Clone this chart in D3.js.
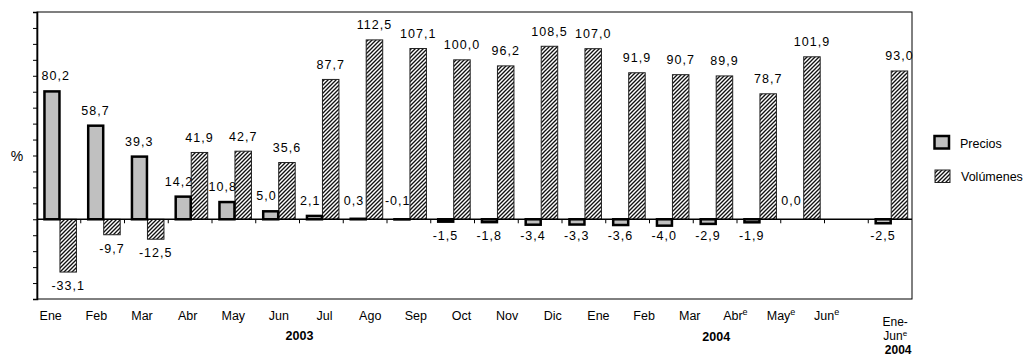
<!DOCTYPE html>
<html>
<head>
<meta charset="utf-8">
<script src="https://cdn.jsdelivr.net/npm/d3@7"></script>
<style>
  html, body { margin: 0; padding: 0; background: #fff; }
  svg { display: block; font-family: "Liberation Sans", Arial, sans-serif; }
</style>
</head>
<body>
<svg id="chart" width="1028" height="356"></svg>
<script>
// ---- Data ----
const slotKeys = ["2003-01","2003-02","2003-03","2003-04","2003-05","2003-06","2003-07","2003-08","2003-09","2003-10","2003-11","2003-12","2004-01","2004-02","2004-03","2004-04","2004-05","2004-06","gap","2004-H1"];
const precios   = [80.2, 58.7, 39.3, 14.2, 10.8, 5.0, 2.1, 0.3, -0.1, -1.5, -1.8, -3.4, -3.3, -3.6, -4.0, -2.9, -1.9, 0.0, null, -2.5];
const volumenes = [-33.1, -9.7, -12.5, 41.9, 42.7, 35.6, 87.7, 112.5, 107.1, 100.0, 96.2, 108.5, 107.0, 91.9, 90.7, 89.9, 78.7, 101.9, null, 93.0];
const monthLabels = ["Ene","Feb","Mar","Abr","May","Jun","Jul","Ago","Sep","Oct","Nov","Dic","Ene","Feb","Mar","Abr","May","Jun"];
const monthEstimated = [false,false,false,false,false,false,false,false,false,false,false,false,false,false,false,true,true,true];
const yearLabels = ["2003", "2004"];
const totalLabel = ["Ene-", "Jun", "2004"];
const seriesNames = ["Precios", "Volúmenes"];
const yTicks = d3.range(-50, 131, 10);

// ---- Layout ----
const svg = d3.select("#chart");
const L = 37, R = 912, T = 12, B = 299;

const x = d3.scaleBand().domain(slotKeys).range([L, R])
  .paddingInner(0.2457).paddingOuter(0.123).align(0.6);
const xs = d3.scaleBand().domain(seriesNames).range([0, x.bandwidth()]);
const y = d3.scaleLinear().domain([-50, 130]).range([B, T]);
const step = (R - L) / slotKeys.length;

const fmt = v => v.toFixed(1).replace(".", ",");

// pattern
const defs = svg.append("defs");
const pat = defs.append("pattern").attr("id", "hatch")
  .attr("patternUnits", "userSpaceOnUse").attr("width", 4).attr("height", 4);
pat.append("rect").attr("width", 4).attr("height", 4).attr("fill", "#fff");
pat.append("path").attr("d", "M-1,1 l2,-2 M0,4 l4,-4 M3,5 l2,-2")
  .attr("stroke", "#111").attr("stroke-width", 1.35);

// frame
svg.append("rect").attr("x", L).attr("y", T).attr("width", R - L).attr("height", B - T)
  .attr("fill", "none").attr("stroke", "#000").attr("stroke-width", 1);

// left axis
const yAxis = d3.axisLeft(y).tickValues(yTicks).tickSize(4).tickFormat("");
const gy = svg.append("g").attr("transform", `translate(${L},0)`).call(yAxis);
gy.select(".domain").attr("stroke-width", 1.6);
gy.selectAll(".tick line").attr("stroke", "#000");

svg.append("text").attr("x", 17).attr("y", 161).attr("text-anchor", "middle")
  .attr("font-size", 14).text("%");

// bars
const rows = slotKeys.map((k, i) => ({k, p: precios[i], v: volumenes[i]}));

// Volumes
svg.append("g").selectAll("rect").data(rows.filter(d => d.v !== null)).join("rect")
  .attr("x", d => x(d.k) + xs("Volúmenes"))
  .attr("width", xs.bandwidth())
  .attr("y", d => y(Math.max(0, d.v)))
  .attr("height", d => Math.abs(y(d.v) - y(0)))
  .attr("fill", "url(#hatch)").attr("stroke", "#222").attr("stroke-width", 1);

// Precios
svg.append("g").selectAll("rect").data(rows.filter(d => d.p !== null && d.p !== 0)).join("rect")
  .attr("x", d => x(d.k) + xs("Precios") + 1)
  .attr("width", xs.bandwidth() - 1.5)
  .attr("y", d => y(Math.max(0, d.p)))
  .attr("height", d => Math.abs(y(d.p) - y(0)))
  .attr("fill", "#c0c0c0").attr("stroke", "#000").attr("stroke-width", 2.5);

// zero axis
svg.append("line").attr("x1", L).attr("x2", R).attr("y1", y(0)).attr("y2", y(0))
  .attr("stroke", "#000").attr("stroke-width", 1.5);
svg.append("g").selectAll("line").data(d3.range(1, slotKeys.length)).join("line")
  .attr("x1", k => L + k * step).attr("x2", k => L + k * step)
  .attr("y1", y(0)).attr("y2", y(0) + 4)
  .attr("stroke", "#000").attr("stroke-width", 1);

// value labels
const lbl = svg.append("g").attr("font-size", 12.5).attr("letter-spacing", 1)
  .attr("text-anchor", "middle").attr("fill", "#000");
const pNudge = v => v > 60 ? 4 : (v > -0.5 && v < 20 ? -4 : 0);
lbl.selectAll("text.p").data(rows.filter(d => d.p !== null)).join("text")
  .attr("class", "p")
  .attr("x", d => x(d.k) + xs("Precios") + xs.bandwidth() / 2 + pNudge(d.p))
  .attr("y", d => d.p > -0.5 ? Math.min(y(Math.max(0, d.p)) - 11, y(0) - 14) : y(0) + 21)
  .text(d => fmt(d.p));
lbl.selectAll("text.v").data(rows.filter(d => d.v !== null)).join("text")
  .attr("class", "v")
  .attr("x", d => x(d.k) + xs("Volúmenes") + xs.bandwidth() / 2)
  .attr("y", d => d.v >= 0 ? y(d.v) - 10.5 : y(d.v) + 18)
  .text(d => fmt(d.v));

// month labels
const xl = d3.scalePoint().domain(d3.range(monthLabels.length)).range([L + 13.7, L + 789.7]);
const ml = svg.append("g").attr("font-size", 12.5).attr("text-anchor", "middle");
monthLabels.forEach((m, i) => {
  const t = ml.append("text").attr("x", xl(i)).attr("y", 320);
  t.append("tspan").text(m);
  if (monthEstimated[i]) t.append("tspan").attr("font-size", 9).attr("dy", -5).text("e");
});

// year labels
svg.append("text").attr("x", L + 6 * step).attr("y", 340).attr("text-anchor", "middle")
  .attr("font-size", 12.5).attr("font-weight", "bold").text(yearLabels[0]);
svg.append("text").attr("x", x("2004-04") + x.bandwidth() / 2).attr("y", 341).attr("text-anchor", "middle")
  .attr("font-size", 12.5).attr("font-weight", "bold").text(yearLabels[1]);

// total label
const tx = x("2004-H1") + x.bandwidth() / 2 + 4;
svg.append("text").attr("x", tx).attr("y", 326).attr("text-anchor", "middle")
  .attr("font-size", 12).text(totalLabel[0]);
const tj = svg.append("text").attr("x", tx).attr("y", 340).attr("text-anchor", "middle")
  .attr("font-size", 12);
tj.append("tspan").text(totalLabel[1]);
tj.append("tspan").attr("font-size", 8).attr("dy", -4).text("e");
svg.append("text").attr("x", tx + 3).attr("y", 354).attr("text-anchor", "middle")
  .attr("font-size", 12).attr("font-weight", "bold").text(totalLabel[2]);

// legend
const lg = svg.append("g");
lg.append("rect").attr("x", 934.5).attr("y", 136).attr("width", 14.5).attr("height", 12.5)
  .attr("fill", "#c0c0c0").attr("stroke", "#000").attr("stroke-width", 2.5);
lg.append("text").attr("x", 960).attr("y", 147.5).attr("font-size", 12.5).text(seriesNames[0]);
lg.append("rect").attr("x", 935).attr("y", 170).attr("width", 15).attr("height", 12.5)
  .attr("fill", "url(#hatch)").attr("stroke", "#222").attr("stroke-width", 1);
lg.append("text").attr("x", 961).attr("y", 181).attr("font-size", 12.5).text(seriesNames[1]);
</script>
</body>
</html>
